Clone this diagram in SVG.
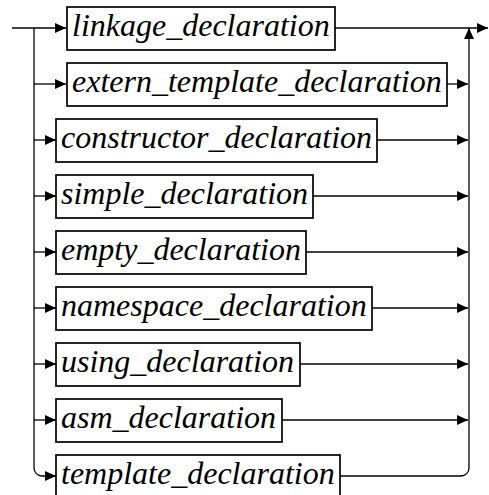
<svg xmlns="http://www.w3.org/2000/svg" width="489" height="495" viewBox="0 0 489 495">
<style>
.box{fill:#fff;stroke:#000;stroke-width:1.7}
.lbl{font-family:"Liberation Serif","Times New Roman",serif;font-style:italic;font-size:32px;fill:#000}
.ln{fill:none;stroke:#000;stroke-width:1.3}
</style>
<defs>
<marker id="ah" markerUnits="userSpaceOnUse" markerWidth="13" markerHeight="12" refX="11" refY="5" orient="auto" overflow="visible">
<path d="M0,0 L11,5 L0,10 z" fill="#000"/>
</marker>
</defs>
<rect width="489" height="495" fill="#fff"/>
<g id="connectors">
<path class="ln" d="M12,28 H66" marker-end="url(#ah)"/>
<path class="ln" d="M335,28 H488" marker-end="url(#ah)"/>
<path class="ln" d="M34,28 V468 A8,8 0 0 0 42,476 H56" marker-end="url(#ah)"/>
<path class="ln" d="M34,84 H66" marker-end="url(#ah)"/>
<path class="ln" d="M34,140 H56" marker-end="url(#ah)"/>
<path class="ln" d="M34,196 H56" marker-end="url(#ah)"/>
<path class="ln" d="M34,252 H56" marker-end="url(#ah)"/>
<path class="ln" d="M34,308 H56" marker-end="url(#ah)"/>
<path class="ln" d="M34,364 H56" marker-end="url(#ah)"/>
<path class="ln" d="M34,420 H56" marker-end="url(#ah)"/>
<path class="ln" d="M447,84 H468" marker-end="url(#ah)"/>
<path class="ln" d="M377,140 H468" marker-end="url(#ah)"/>
<path class="ln" d="M313,196 H468" marker-end="url(#ah)"/>
<path class="ln" d="M306,252 H468" marker-end="url(#ah)"/>
<path class="ln" d="M372,308 H468" marker-end="url(#ah)"/>
<path class="ln" d="M300,364 H468" marker-end="url(#ah)"/>
<path class="ln" d="M282,420 H468" marker-end="url(#ah)"/>
<path class="ln" d="M340,476 H461 A8,8 0 0 0 469,468 V28" marker-end="url(#ah)"/>
</g>
<g id="linkage_declaration"><rect class="box" x="67" y="7" width="268" height="43"/><text class="lbl" x="72" y="36">linkage_declaration</text></g>
<g id="extern_template_declaration"><rect class="box" x="67" y="63" width="380" height="43"/><text class="lbl" x="72" y="92">extern_template_declaration</text></g>
<g id="constructor_declaration"><rect class="box" x="56" y="119" width="321" height="43"/><text class="lbl" x="61" y="148">constructor_declaration</text></g>
<g id="simple_declaration"><rect class="box" x="56" y="175" width="257" height="43"/><text class="lbl" x="61" y="204">simple_declaration</text></g>
<g id="empty_declaration"><rect class="box" x="56" y="231" width="250" height="43"/><text class="lbl" x="61" y="260">empty_declaration</text></g>
<g id="namespace_declaration"><rect class="box" x="56" y="287" width="316" height="43"/><text class="lbl" x="61" y="316">namespace_declaration</text></g>
<g id="using_declaration"><rect class="box" x="56" y="343" width="244" height="43"/><text class="lbl" x="61" y="372">using_declaration</text></g>
<g id="asm_declaration"><rect class="box" x="56" y="399" width="226" height="43"/><text class="lbl" x="61" y="428">asm_declaration</text></g>
<g id="template_declaration"><rect class="box" x="56" y="455" width="284" height="43"/><text class="lbl" x="61" y="484">template_declaration</text></g>
</svg>
